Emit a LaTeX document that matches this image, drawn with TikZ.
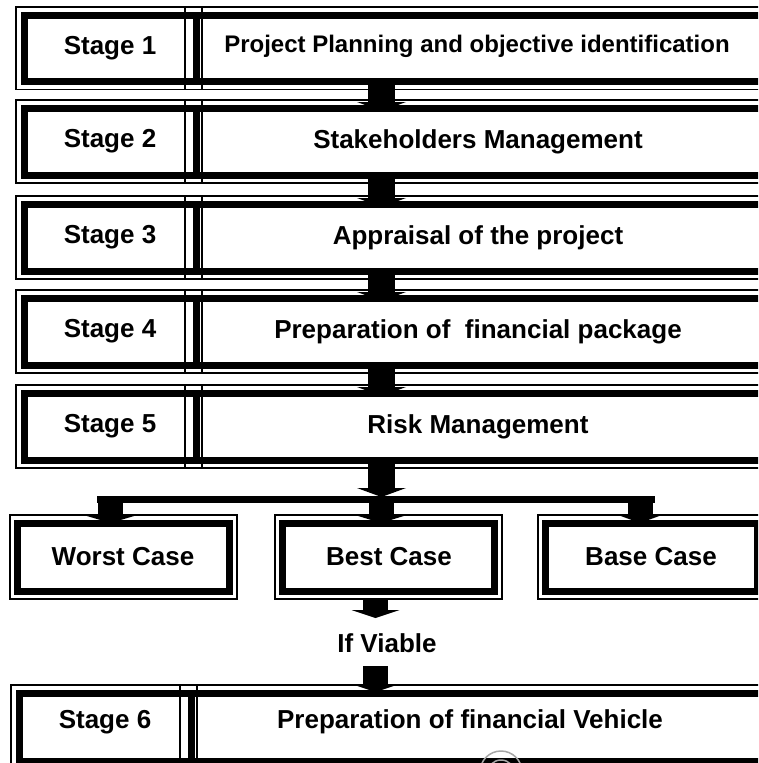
\documentclass[tikz,border=0pt]{standalone}
\usepackage{fontspec}
\setmainfont{Liberation Sans}
\begin{document}
\begin{tikzpicture}[x=1pt,y=-1pt,
  thinline/.style={line width=1.4pt},
  thickline/.style={line width=7pt,line join=miter},
  lbl/.style={font=\bfseries\fontsize{26}{30}\selectfont,inner sep=0pt},
  lblsmall/.style={font=\bfseries\fontsize{24}{28}\selectfont,inner sep=0pt}]
\useasboundingbox (0,0) rectangle (758,763);
\clip (0,0) rectangle (758,763);
\newcommand\stagerow[4]{%
  \draw[thinline] (#1,#2) rectangle (800,#3);
  \draw[thinline] (#4-11,#2) -- (#4-11,#3) (#4+6,#2) -- (#4+6,#3);
  \draw[thickline] (#1+8,#2+8) rectangle (800,#3-8);
  \draw[thickline] (#4,#2+8) -- (#4,#3-8);
}
\newcommand\casebox[4]{%
  \draw[thinline] (#1,#2) rectangle (#3,#4);
  \draw[thickline] (#1+7.5,#2+8) rectangle (#3-7.5,#4-8);
}
\newcommand\blockarrow[6]{% cx, ys, yh, yt, shaft half, head half
  \fill (#1-#5,#2) rectangle (#1+#5,#3);
  \fill (#1-#6,#3) -- (#1+#6,#3) -- (#1,#4) -- cycle;
}
% stage rows
\stagerow{16}{7}{89.5}{196}
\stagerow{16}{100}{183}{196}
\stagerow{16}{196}{279}{196}
\stagerow{16}{290}{373}{196}
\stagerow{16}{385}{468}{196}
\stagerow{11}{685}{769}{191}
% texts
\node[lbl] (s1) at (110,48) {Stage 1};
\node[lblsmall] (p1) at (477,46) {Project Planning and objective identification};
\node[lbl] (s2) at (110,141.5) {Stage 2};
\node[lbl] (p2) at (478,141.5) {Stakeholders Management};
\node[lbl] (s3) at (110,237.5) {Stage 3};
\node[lbl] (p3) at (478,237.5) {Appraisal of the project};
\node[lbl] (s4) at (110,331.5) {Stage 4};
\node[lbl] (p4) at (478,331.5) {Preparation of\ \ financial package};
\node[lbl] (s5) at (110,426.5) {Stage 5};
\node[lbl] (p5) at (478,426.5) {Risk Management};
\node[lbl] (s6) at (105,722) {Stage 6};
\node[lbl] (p6) at (470,722) {Preparation of financial Vehicle};
% arrows between stages
\blockarrow{381.5}{81.5}{102}{111}{13.5}{24.5}
\blockarrow{381.5}{175}{198}{207}{13.5}{24.5}
\blockarrow{381.5}{271}{292}{301}{13.5}{24.5}
\blockarrow{381.5}{365}{387}{396}{13.5}{24.5}
% branch
\blockarrow{381.5}{460}{488}{497}{13.5}{24.5}
\fill (97,496) rectangle (655,503);
\blockarrow{110.5}{500}{515}{523}{12.5}{27}
\blockarrow{381}{500}{515}{523}{12.5}{26}
\blockarrow{640}{500}{515}{523}{12.5}{22}
% case boxes
\casebox{10}{515}{237}{599}
\casebox{275}{515}{502}{599}
\casebox{538}{515}{765}{599}
\node[lbl] (wc) at (123,557) {Worst Case};
\node[lbl] (bc) at (389,557) {Best Case};
\node[lbl] (bsc) at (651,557) {Base Case};
% best -> if viable -> stage 6
\blockarrow{375.5}{599}{610}{618}{12.5}{24}
\node[lbl] (iv) at (387,643) {If Viable};
\blockarrow{375.5}{666}{684}{692}{12.5}{24}
% watermark arcs
\draw[gray!70,line width=1.5pt] (501,772) circle (21);
\draw[gray!70,line width=1.5pt] (501,774) circle (14);
\end{tikzpicture}
\end{document}
